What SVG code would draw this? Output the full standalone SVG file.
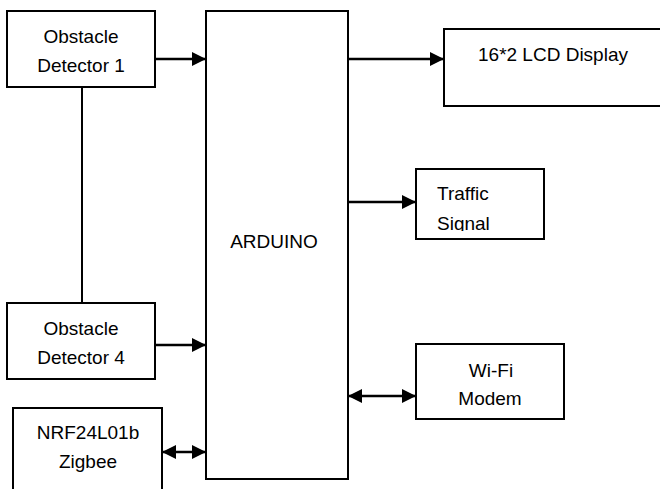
<svg xmlns="http://www.w3.org/2000/svg" width="660" height="489" viewBox="0 0 660 489">
<style>
.box{fill:#fff;stroke:#000;stroke-width:2}
.ln{fill:none;stroke:#000;stroke-width:2.5}
.t{font-family:"Liberation Sans",Arial,sans-serif;font-size:19px;fill:#000}
.c{text-anchor:middle}
</style>
<defs>
<marker id="ah" markerUnits="userSpaceOnUse" markerWidth="15" markerHeight="15" refX="14" refY="7" orient="auto">
<path d="M0,0 L14,7 L0,14 Z" fill="#000"/>
</marker>
<marker id="as" markerUnits="userSpaceOnUse" markerWidth="15" markerHeight="15" refX="0" refY="7" orient="auto">
<path d="M14,0 L0,7 L14,14 Z" fill="#000"/>
</marker>
<clipPath id="clipSig"><rect x="416" y="169" width="128" height="62"/></clipPath>
</defs>
<rect width="660" height="489" fill="#fff"/>
<g id="connectors">
<line class="ln" x1="82" y1="87" x2="82" y2="303" style="stroke-width:2"/>
<line class="ln" x1="155" y1="59" x2="206" y2="59" marker-end="url(#ah)"/>
<line class="ln" x1="348" y1="59" x2="444" y2="59" marker-end="url(#ah)"/>
<line class="ln" x1="348" y1="202" x2="416" y2="202" marker-end="url(#ah)"/>
<line class="ln" x1="348" y1="396" x2="416" y2="396" marker-start="url(#as)" marker-end="url(#ah)"/>
<line class="ln" x1="155" y1="345" x2="206" y2="345" marker-end="url(#ah)"/>
<line class="ln" x1="162" y1="452" x2="206" y2="452" marker-start="url(#as)" marker-end="url(#ah)"/>
</g>
<g id="obstacle1">
<rect class="box" x="7" y="11" width="148" height="76"/>
<text class="t c" x="81" y="43">Obstacle</text>
<text class="t c" x="81" y="72">Detector 1</text>
</g>
<g id="obstacle4">
<rect class="box" x="7" y="303" width="148" height="76"/>
<text class="t c" x="81" y="335">Obstacle</text>
<text class="t c" x="81" y="364">Detector 4</text>
</g>
<g id="nrf">
<path class="box" d="M13,490 V408 H162 V490"/>
<text class="t c" x="88" y="439">NRF24L01b</text>
<text class="t c" x="88" y="468">Zigbee</text>
</g>
<g id="arduino">
<rect class="box" x="206" y="11" width="142" height="468"/>
<text class="t c" x="274" y="248">ARDUINO</text>
</g>
<g id="lcd">
<path class="box" d="M662,29 H444 V106 H662"/>
<text class="t" x="478" y="61">16*2 LCD Display</text>
</g>
<g id="traffic">
<rect class="box" x="416" y="169" width="128" height="70"/>
<text class="t" x="437" y="200">Traffic</text>
<text class="t" x="437" y="230" clip-path="url(#clipSig)">Signal</text>
</g>
<g id="wifi">
<rect class="box" x="416" y="344" width="148" height="75"/>
<text class="t c" x="491" y="377">Wi-Fi</text>
<text class="t c" x="490" y="405">Modem</text>
</g>
</svg>
